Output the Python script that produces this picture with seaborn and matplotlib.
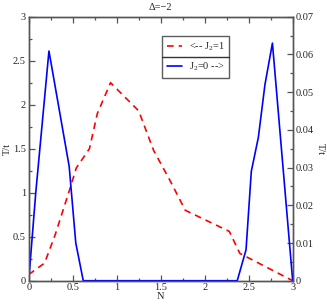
import numpy as np
import pandas as pd
import matplotlib
matplotlib.use("Agg")
import matplotlib.pyplot as plt
import seaborn as sns
from matplotlib.ticker import MultipleLocator, FuncFormatter
from matplotlib.lines import Line2D

# Data
n_j1 = [0, 0.18, 0.3, 0.47, 0.54, 0.69, 0.78, 0.93, 1.25, 1.42, 1.6, 1.78, 2.28, 2.4, 3.0]
t_j1 = [0.07, 0.2, 0.52, 1.05, 1.28, 1.5, 1.9, 2.25, 1.93, 1.48, 1.15, 0.8, 0.56, 0.31, 0.0]

n_j0 = [0, 0.08, 0.23, 0.46, 0.535, 0.62, 2.37, 2.47, 2.53, 2.61, 2.685, 2.77, 3.0]
t_j0 = [0, 0.0233, 0.0609, 0.0303, 0.0100, 0, 0, 0.0082, 0.029, 0.038, 0.052, 0.063, 0]

title = "Δ=−2"
label_j1 = "<-- J$_2$=1"
label_j0 = "J$_2$=0 -->"

sns.set_style("ticks")
plt.rcParams['font.family'] = ['Liberation Serif', 'DejaVu Serif']
plt.rcParams['mathtext.fontset'] = 'custom'
plt.rcParams['mathtext.rm'] = 'Liberation Serif'
plt.rcParams['mathtext.it'] = 'Liberation Serif'

df1 = pd.DataFrame({"N": n_j1, "T": t_j1})
df0 = pd.DataFrame({"N": n_j0, "T": t_j0})

fig = plt.figure(figsize=(3.27, 3.04), dpi=100)
ax = fig.add_axes([0.0878, 0.0766, 0.895 - 0.0878, 0.945 - 0.0766])
ax2 = ax.twinx()

sns.lineplot(data=df1, x="N", y="T", ax=ax, color="#ff0000", lw=1.2,
             linestyle=(0, (4, 3)), sort=False)
sns.lineplot(data=df0, x="N", y="T", ax=ax2, color="#0000ff", lw=1.2, sort=False)

ax.set_xlim(0, 3)
ax.set_ylim(0, 3)
ax2.set_ylim(0, 0.07)

for a in (ax, ax2):
    for s in a.spines.values():
        s.set_color("#555555")
        s.set_linewidth(1.0)
        s.set_visible(True)

fmt = FuncFormatter(lambda v, p: "%g" % round(v, 4))
ax.xaxis.set_major_locator(MultipleLocator(0.5))
ax.xaxis.set_minor_locator(MultipleLocator(0.25))
ax.yaxis.set_major_locator(MultipleLocator(0.5))
ax.yaxis.set_minor_locator(MultipleLocator(0.25))
ax2.yaxis.set_major_locator(MultipleLocator(0.01))
ax2.yaxis.set_minor_locator(MultipleLocator(0.005))
ax.xaxis.set_major_formatter(fmt)
ax.yaxis.set_major_formatter(fmt)
ax2.yaxis.set_major_formatter(fmt)

ax.tick_params(axis='x', which='both', direction='in', top=True, bottom=True,
               labelsize=7.5, pad=2, color="#555555")
ax.tick_params(axis='y', which='both', direction='in', left=True, right=False,
               labelsize=7.5, pad=2, color="#555555")
ax2.tick_params(axis='y', which='both', direction='in', right=True, left=False,
                labelsize=7.5, pad=2, color="#555555")
for a in (ax, ax2):
    a.tick_params(which='major', length=4, width=0.9)
    a.tick_params(which='minor', length=2, width=0.9)

ax.set_xlabel("N", fontsize=7.5, labelpad=0)
ax.set_ylabel("T/t", fontsize=7.5)
ax.yaxis.set_label_coords(-0.062, 0.5)
ax2.set_ylabel("T/t", fontsize=7.5, rotation=-90, labelpad=8)
ax.set_title(title, fontsize=7.5, pad=5)

handles = [Line2D([], [], color="#ff0000", lw=1.2, linestyle=(0, (4, 3))),
           Line2D([], [], color="#0000ff", lw=1.2)]
leg = ax.legend(handles, [label_j1, label_j0], loc="upper left",
                bbox_to_anchor=(0.506, 0.928), fontsize=7.5, frameon=True,
                fancybox=False, edgecolor="#333333", handlelength=1.4,
                handletextpad=0.7, borderpad=0.45, labelspacing=0.75,
                borderaxespad=0)
leg.get_frame().set_linewidth(1.0)
leg.set_zorder(10)

fig.canvas.draw()
bb = leg.get_window_extent().transformed(fig.transFigure.inverted())
ymid = (bb.y0 + bb.y1) / 2
fig.add_artist(Line2D([bb.x0, bb.x1], [ymid, ymid], color="#333333", lw=1.0,
                      transform=fig.transFigure, zorder=11))

fig.savefig("out.png", dpi=100)
